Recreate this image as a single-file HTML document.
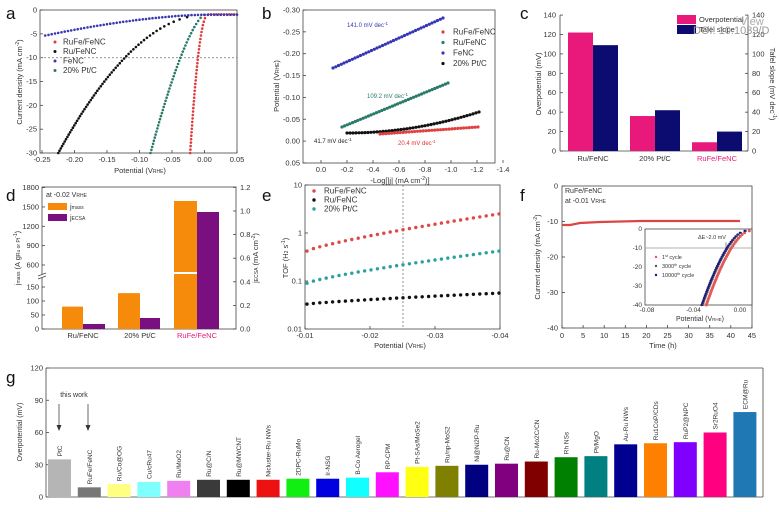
<!DOCTYPE html>
<html><head><meta charset="utf-8"><style>
body{margin:0;background:#fff}
svg{display:block;font-family:"Liberation Sans",sans-serif}
text{fill:#333}
.t{font-size:7.5px}
.L{font-size:17px;fill:#111}
</style></head><body>
<svg id="s" width="779" height="512" viewBox="0 0 779 512">
<text class="L" x="6" y="19">a</text><text class="L" x="262" y="19">b</text><text class="L" x="520" y="19">c</text>
<text class="L" x="6" y="201">d</text><text class="L" x="262" y="201">e</text><text class="L" x="520" y="201">f</text>
<text class="L" x="6" y="383">g</text>
<g id="g" stroke-width="0.8"></g>
<text x="740" y="25" style="font-size:11px;fill:#aaa">View</text>
<text x="693" y="34" style="font-size:11px;fill:#999">DOI: 10.1039/D</text>
</svg>
<script>
var G=document.getElementById('g'),h='';
function T(x,y,s,o){o=o||{};h+='<text x="'+x+'" y="'+y+'" class="t" text-anchor="'+(o.a||'middle')+'"'+(o.r?' transform="rotate('+o.r+' '+x+' '+y+')"':'')+' style="'+(o.c?'fill:'+o.c+';':'')+(o.fs?'font-size:'+o.fs+'px;':'')+'">'+s+'</text>';}
function R(x,y,w,hh,c,st){h+='<rect x="'+x+'" y="'+y+'" width="'+w+'" height="'+hh+'" fill="'+c+'" stroke="'+(st||'none')+'"/>';}
function Ln(x1,y1,x2,y2,c,d){h+='<line x1="'+x1+'" y1="'+y1+'" x2="'+x2+'" y2="'+y2+'" stroke="'+(c||'#444')+'"'+(d?' stroke-dasharray="'+d+'"':'')+'/>';}
function C(x,y,r,c){h+='<circle cx="'+x.toFixed(1)+'" cy="'+y.toFixed(1)+'" r="'+r+'" fill="'+c+'"/>';}
function box(x1,y1,x2,y2){h+='<rect x="'+x1+'" y="'+y1+'" width="'+(x2-x1)+'" height="'+(y2-y1)+'" fill="none" stroke="#444" stroke-width="0.8"/>';}
var ax=function(E){return 42+(E+0.25)*650},ay=function(j){return 10-j*4.767};
box(40,10,237,153);
[-0.25,-0.2,-0.15,-0.1,-0.05,0,0.05].forEach(function(v){var x=ax(v);Ln(x,153,x,150);T(x,162,v.toFixed(2));});
[0,-5,-10,-15,-20,-25,-30].forEach(function(v){var y=ay(v);Ln(40,y,43,y);T(37,y+2.5,v,{a:'end'});});
T(140,173,'Potential (V<tspan style="font-size:5px">RHE</tspan>)');
T(22,82,'Current density (mA cm<tspan dy="-3" style="font-size:5px">-2</tspan><tspan dy="3">)</tspan>',{r:-90});
Ln(40,ay(-10),237,ay(-10),'#888','2,2');
function curveA(p,Ej,c){for(var i=0;i<=p;i++){var j=-1-29*i/p;var E=Ej(j);if(E>=-0.25)C(ax(E),ay(j),1.3,c);}}
for(var E=0.05;E>0.005;E-=0.004)C(ax(E),ay(-0.9),1.2,'#d33');
curveA(40,function(j){return 0.005-0.027*Math.sqrt((-j-1)/29)},'#e03a3a');
curveA(45,function(j){return 0.0-0.083*Math.pow((-j-1)/29,0.69)},'#2a7a6a');
curveA(60,function(j){return -0.0-0.225*Math.pow((-j-1)/29,0.52)},'#111');
for(var E=0.05;E>-0.25;E-=0.005){var j=-1-4.5*Math.pow(Math.max(0,-E)/0.25,1.6);C(ax(E),ay(j),1.3,'#3a3ab0');}
[['RuFe/FeNC','#e03a3a'],['Ru/FeNC','#111'],['FeNC','#3a3ab0'],['20% Pt/C','#2a7a6a']].forEach(function(a,i){C(55,42+i*9.5,1.5,a[1]);T(63,44.5+i*9.5,a[0],{a:'start',fs:8});});
var bx=function(v){return 321-v*130},by=function(p){return 10+(p+0.30)*437};
box(303,10,495,163);
[0,-0.2,-0.4,-0.6,-0.8,-1.0,-1.2,-1.4].forEach(function(v){var x=bx(v);Ln(x,163,x,160);T(x,172,v.toFixed(1));});
[-0.30,-0.25,-0.20,-0.15,-0.10,-0.05,0,0.05].forEach(function(v){var y=by(v);Ln(303,y,306,y);T(300,y+2.5,v.toFixed(2),{a:'end'});});
T(400,183,'-Log[|j| (mA cm<tspan dy="-3" style="font-size:5px">-2</tspan><tspan dy="3">)]</tspan>');
T(279,86,'Potential (V<tspan style="font-size:5px">RHE</tspan>)',{r:-90});
function lin(x1,y1,x2,y2,n,c,bend){for(var i=0;i<=n;i++){var t=i/n;var yy=y1+(y2-y1)*(bend?Math.pow(t,bend):t);C(x1+(x2-x1)*t,yy,1.6,c);}}
lin(333,68,443,18,40,'#3535b5');
lin(342,127,448,83,40,'#2a7a6a');
lin(347,133,479,112,44,'#111',2);
lin(380,134,478,127,34,'#e04040');
T(347,27,'141.0 mV dec<tspan dy="-2" style="font-size:4.5px">-1</tspan>',{a:'start',c:'#3535b5',fs:6});
T(367,98,'109.2 mV dec<tspan dy="-2" style="font-size:4.5px">-1</tspan>',{a:'start',c:'#2a7a6a',fs:6});
T(314,143,'41.7 mV dec<tspan dy="-2" style="font-size:4.5px">-1</tspan>',{a:'start',c:'#222',fs:6});
T(398,145,'20.4 mV dec<tspan dy="-2" style="font-size:4.5px">-1</tspan>',{a:'start',c:'#d33',fs:6});
[['RuFe/FeNC','#e04040'],['Ru/FeNC','#2a7a6a'],['FeNC','#3535b5'],['20% Pt/C','#111']].forEach(function(a,i){C(443,32+i*10.5,1.6,a[1]);T(453,34.5+i*10.5,a[0],{a:'start',fs:8});});
var cy=function(v){return 151-v*0.971};
Ln(560,15,560,151);Ln(748,15,748,151);Ln(560,151,748,151);
[0,20,40,60,80,100,120,140].forEach(function(v){var y=cy(v);Ln(560,y,563,y);Ln(745,y,748,y);T(556,y+2.5,v,{a:'end'});T(752,y+2.5,v,{a:'start'});});
[[568,122,109],[630,36,42],[692,9,20]].forEach(function(b){R(b[0],cy(b[1]),25,b[1]*0.971,'#e8197a');R(b[0]+25,cy(b[2]),25,b[2]*0.971,'#0b0b70');});
T(593,161,'Ru/FeNC');T(655,161,'20% Pt/C');T(717,161,'RuFe/FeNC',{c:'#e8197a'});
T(541,84,'Overpotential (mV)',{r:-90});
T(770,84,'Tafel slope (mV dec<tspan dy="-3" style="font-size:5px">-1</tspan><tspan dy="3">)</tspan>',{r:90});
R(677,15,19,9,'#e8197a');R(677,25,19,9,'#0b0b70');T(699,22,'Overpotential',{a:'start'});T(699,32,'Tafel slope',{a:'start'});
function dy(v){return v<=150?329-v*0.28:265-(v-600)*0.0645}
box(42,187,236,329);
[0,50,100,150].forEach(function(v){var y=dy(v);Ln(42,y,45,y);T(39,y+2.5,v,{a:'end'});});
[600,900,1200,1500,1800].forEach(function(v){var y=dy(v);Ln(42,y,45,y);T(39,y+2.5,v,{a:'end'});});
[0,0.2,0.4,0.6,0.8,1.0,1.2].forEach(function(v){var y=329-v*118;Ln(233,y,236,y);T(240,y+2.5,v.toFixed(1),{a:'start'});});
R(39,274,6,4,'#fff');Ln(38,276,46,273);Ln(38,279,46,276);
R(62,dy(80),21,329-dy(80),'#f58a0b');R(83,324,22,5,'#7a0f80');
R(118,dy(128),22,329-dy(128),'#f58a0b');R(140,318,20,11,'#7a0f80');
R(174,201,23,128,'#f58a0b');R(174,272,23,2,'#fff');R(197,212,22,117,'#7a0f80');
T(83,338,'Ru/FeNC');T(140,338,'20% Pt/C');T(197,338,'RuFe/FeNC',{c:'#e8197a'});
T(46,197,'at -0.02 V<tspan style="font-size:5px">RHE</tspan>',{a:'start',fs:7});
R(48,203,19,7,'#f58a0b');R(48,214,19,7,'#7a0f80');T(70,209,'j<tspan style="font-size:5px">mass</tspan>',{a:'start'});T(70,220,'j<tspan style="font-size:5px">ECSA</tspan>',{a:'start'});
T(20,258,'j<tspan style="font-size:5px">mass</tspan> (A g<tspan style="font-size:5px">Ru or Pt</tspan><tspan dy="-3" style="font-size:5px">-1</tspan><tspan dy="3">)</tspan>',{r:-90});
T(258,258,'j<tspan style="font-size:5px">ECSA</tspan> (mA cm<tspan dy="-3" style="font-size:5px">-2</tspan><tspan dy="3">)</tspan>',{r:-90});
var ex=function(v){return 305-(v+0.01)*6500},ey=function(t){return 329-(Math.log10(t)+2)*48};
box(305,185,500,329);
[[-0.01,'-0.01'],[-0.02,'-0.02'],[-0.03,'-0.03'],[-0.04,'-0.04']].forEach(function(a){var x=ex(a[0]);Ln(x,329,x,326);T(x,338,a[1]);});
[[10,'10'],[1,'1'],[0.1,'0.1'],[0.01,'0.01']].forEach(function(a){var y=ey(a[0]);Ln(305,y,308,y);T(302,y+2.5,a[1],{a:'end'});});
Ln(403,185,403,329,'#777','2,2');
T(400,348,'Potential (V<tspan style="font-size:5px">RHE</tspan>)');
T(288,258,'TOF (H<tspan style="font-size:5px">2</tspan> s<tspan dy="-3" style="font-size:5px">-1</tspan><tspan dy="3">)</tspan>',{r:-90});
function le(a,b,c){for(var i=0;i<=30;i++){var t=i/30;var v=Math.pow(10,Math.log10(a)+(Math.log10(b)-Math.log10(a))*Math.pow(t,0.8));C(307+t*192,ey(v),1.7,c);}}
le(0.42,2.5,'#e04848');le(0.09,0.42,'#2aa0a0');le(0.033,0.056,'#111');
[['RuFe/FeNC','#e04848'],['Ru/FeNC','#111'],['20% Pt/C','#2aa0a0']].forEach(function(a,i){C(314,191+i*9,1.7,a[1]);T(324,193.5+i*9,a[0],{a:'start',fs:8});});
var fx=function(t){return 562+t*4.22},fy=function(j){return 186-j*3.55};
box(562,186,752,328);
[0,5,10,15,20,25,30,35,40,45].forEach(function(v){var x=fx(v);Ln(x,328,x,325);T(x,338,v);});
[0,-10,-20,-30,-40].forEach(function(v){var y=fy(v);Ln(562,y,565,y);T(558,y+2.5,v,{a:'end'});});
T(663,348,'Time (h)');
T(540,257,'Current density (mA cm<tspan dy="-3" style="font-size:5px">-2</tspan><tspan dy="3">)</tspan>',{r:-90});
h+='<path d="M562 225 L570 225 L580 223 L600 222 L640 221 L700 221 L740 221" stroke="#d44" stroke-width="2.2" fill="none"/>';
T(565,193,'RuFe/FeNC',{a:'start',fs:7});T(565,203,'at -0.01 V<tspan style="font-size:5px">RHE</tspan>',{a:'start',fs:7});
R(645,229,107,76,'#fff');box(645,229,752,305);
var ix=function(E){return 647+(E+0.08)*1162},iy=function(j){return 229-j*1.9};
[[-0.08,'-0.08'],[-0.04,'-0.04'],[0,'0.00']].forEach(function(a){T(ix(a[0]),312,a[1],{fs:6.5});});
[0,-10,-20,-30,-40].forEach(function(v){T(642,iy(v)+2,v,{a:'end',fs:6.5});});
T(700,321,'Potential (V<tspan style="font-size:4.5px">RHE</tspan>)',{fs:7});
Ln(645,iy(-10),752,iy(-10),'#999');Ln(726,iy(-7),726,iy(-12),'#777');
T(712,239,'ΔE~2.0 mV',{fs:5.5});
function ic(off,c,r){for(var i=0;i<=40;i++){var j=-1-39*i/40;var E=0.01-0.005-0.037*Math.pow((-j-1)/39,0.6)+off;if(E<0.01)C(ix(E),iy(j),r,c);}}
ic(0.003,'#e05a5a',1.5);ic(0,'#555',1.1);ic(-0.001,'#1a1a80',1.2);
[['1<tspan dy="-2" style="font-size:3.5px">st</tspan><tspan dy="2"> cycle</tspan>','#e05a5a'],['3000<tspan dy="-2" style="font-size:3.5px">th</tspan><tspan dy="2"> cycle</tspan>','#555'],['10000<tspan dy="-2" style="font-size:3.5px">th</tspan><tspan dy="2"> cycle</tspan>','#1a1a80']].forEach(function(a,i){C(656,257+i*9,1.2,a[1]);T(662,259+i*9,a[0],{a:'start',fs:5.5});});
var gy=function(v){return 497-v*1.075};
Ln(46,368,46,497);Ln(46,497,763,497);Ln(763,368,763,497);Ln(46,368,763,368);
[0,30,60,90,120].forEach(function(v){var y=gy(v);Ln(46,y,49,y);T(43,y+2.5,v,{a:'end'});});
T(22,432,'Overpotential (mV)',{r:-90,fs:7});
var bars=[['PtC',35,'#b5b5b5'],['RuFe/FeNC',9,'#777'],['Ru/Co@OG',12,'#ffff80'],['Cu/cRu47',14,'#80ffff'],['Ru/MoO2',15,'#f080f0'],['Ru@C/N',16,'#3a3a3a'],['Ru@MWCNT',16,'#000'],['Nicluster-Ru NWs',16,'#ee1111'],['2DPC-RuMo',17,'#11ee11'],['Ir-NSG',17,'#0000e0'],['B-Co Aerogel',18,'#11ffff'],['RP-CPM',23,'#ff11ff'],['Pt-SAs/MoSe2',28,'#ffff11'],['Ru/np-MoS2',29,'#808000'],['Ni@Ni2P-Ru',30,'#000080'],['Ru@CN',31,'#800080'],['Ru-Mo2C/CN',33,'#800000'],['Rh NSs',37,'#008000'],['Pt/MgO',38,'#008080'],['Au-Ru NWs',49,'#000090'],['Ru1CoP/CDs',50,'#ff8000'],['RuP2@NPC',51,'#8000ff'],['Sr2RuO4',60,'#ff0080'],['ECM@Ru',79,'#1f77b4']];
bars.forEach(function(b,i){var x=48+i*29.8;R(x,gy(b[1]),23,b[1]*1.075,b[2]);var lx=x+14,ly=gy(b[1])-3;T(lx,ly,b[0],{a:'start',r:-90,fs:6.5});});
T(74,397,'this work',{fs:7});
Ln(59,404,59,428);h+='<path d="M56.5 425 L59 431 L61.5 425Z" fill="#333"/>';
Ln(88,404,88,428);h+='<path d="M85.5 425 L88 431 L90.5 425Z" fill="#333"/>';
G.innerHTML=h;
</script>
</body></html>
